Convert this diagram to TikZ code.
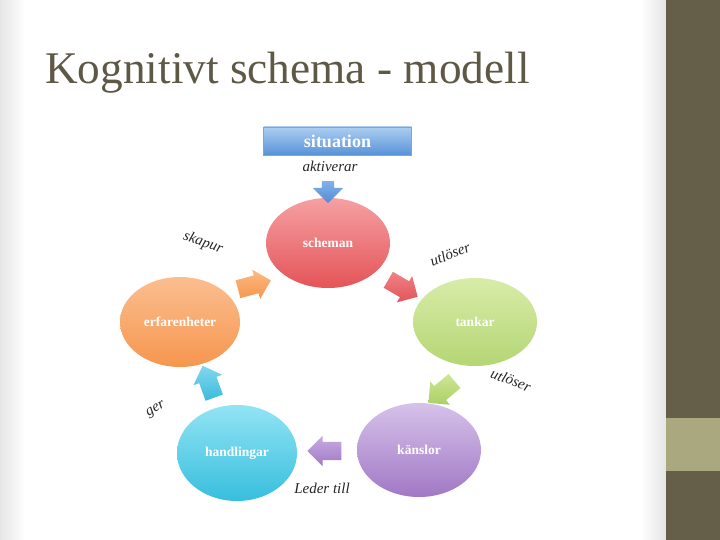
\documentclass[tikz,border=0pt]{standalone}
\usepackage{fontspec}
\setmainfont{Liberation Serif}
\usetikzlibrary{shapes.geometric,shapes.arrows}
\definecolor{titlecol}{HTML}{5E5846}
\definecolor{bardark}{HTML}{655E48}
\definecolor{barlight}{HTML}{A9A87E}
\tikzset{
  bubble/.style={ellipse, draw=none, font=\bfseries\fontsize{13.5}{15}\selectfont, text=white, inner sep=0pt},
  blockarrow/.style={single arrow, draw=none, minimum height=34pt,
     single arrow head extend=6pt, single arrow head indent=0pt, inner xsep=0pt, inner ysep=9pt},
  verb/.style={font=\itshape\fontsize{15}{17}\selectfont, text=black!85},
}
\begin{document}
\begin{tikzpicture}[x=1pt,y=-1pt]
\useasboundingbox (0,0) rectangle (720,540);
\fill[white] (0,0) rectangle (720,540);
\shade[left color=black!10, right color=white] (0,0) rectangle (25,540);
\shade[left color=white, right color=black!10] (640,0) rectangle (666,540);
\fill[bardark] (666,0) rectangle (720,540);
\fill[barlight] (666,418) rectangle (720,471);

\node[anchor=base west, inner sep=0pt, text=titlecol, font=\fontsize{45.3}{50}\selectfont] (title) at (45,84) {Kognitivt schema - modell};

\node[rectangle, draw={rgb,255:red,120;green,165;blue,220}, top color={rgb,255:red,172;green,206;blue,240}, bottom color={rgb,255:red,88;green,146;blue,216},
  minimum width=148pt, minimum height=28pt, inner sep=0pt,
  font=\bfseries\fontsize{18}{20}\selectfont, text=white] (sit) at (337.5,141) {situation};

\node[bubble, minimum width=124pt, minimum height=90pt, top color={rgb,255:red,246;green,160;blue,162}, bottom color={rgb,255:red,228;green,84;blue,88}] (sch) at (328,243) {scheman};
\node[bubble, minimum width=124pt, minimum height=88pt, top color={rgb,255:red,216;green,236;blue,168}, bottom color={rgb,255:red,180;green,214;blue,116}] (tan) at (475,322) {tankar};
\node[bubble, minimum width=120pt, minimum height=90pt, top color={rgb,255:red,251;green,190;blue,144}, bottom color={rgb,255:red,246;green,150;blue,78}] (erf) at (180,322) {erfarenheter};
\node[bubble, minimum width=124pt, minimum height=94pt, top color={rgb,255:red,214;green,194;blue,234}, bottom color={rgb,255:red,160;green,120;blue,196}] (kan) at (419,450) {känslor};
\node[bubble, minimum width=120pt, minimum height=96pt, top color={rgb,255:red,146;green,228;blue,244}, bottom color={rgb,255:red,56;green,190;blue,222}] (han) at (237,453) {handlingar};

\node[blockarrow, rotate=-90, minimum height=22pt, inner ysep=6pt, single arrow head extend=9pt, top color={rgb,255:red,130;green,178;blue,232}, bottom color={rgb,255:red,82;green,140;blue,214}] (a1) at (328,189) {};
\node[blockarrow, rotate=15, top color={rgb,255:red,252;green,186;blue,130}, bottom color={rgb,255:red,246;green,150;blue,80}] (a2) at (250,286) {};
\node[blockarrow, rotate=-30, top color={rgb,255:red,240;green,130;blue,134}, bottom color={rgb,255:red,226;green,84;blue,88}] (a3) at (399,286) {};
\node[blockarrow, rotate=-140, top color={rgb,255:red,206;green,230;blue,150}, bottom color={rgb,255:red,170;green,208;blue,100}] (a4) at (445,389) {};
\node[blockarrow, rotate=180, top color={rgb,255:red,200;green,172;blue,226}, bottom color={rgb,255:red,160;green,120;blue,196}] (a5) at (329,451) {};
\node[blockarrow, rotate=110, top color={rgb,255:red,130;green,216;blue,238}, bottom color={rgb,255:red,60;green,186;blue,220}] (a6) at (210,386) {};

\node[verb] (l1) at (330,166) {aktiverar};
\node[verb, rotate=-19] (l2) at (203,243) {skapur};
\node[verb, rotate=21] (l3) at (450,254) {utlöser};
\node[verb, rotate=-21] (l4) at (511,380) {utlöser};
\node[verb, rotate=30] (l5) at (156,410) {ger};
\node[verb] (l6) at (322,488) {Leder till};
\end{tikzpicture}
\end{document}
